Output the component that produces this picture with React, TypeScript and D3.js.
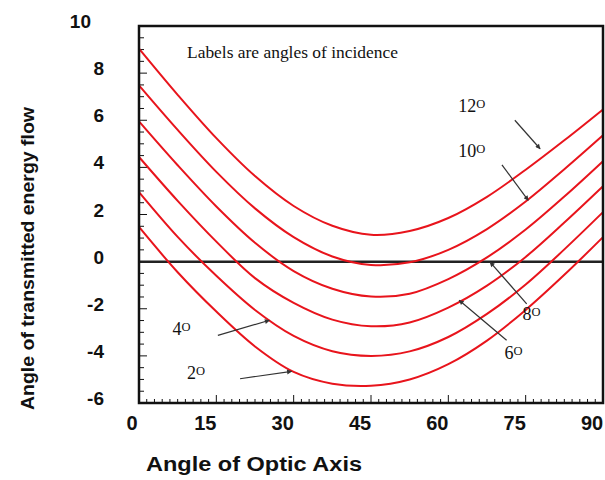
import React, { useEffect, useRef } from 'react'
import * as d3 from 'd3'

// angle of optic axis (deg)
const axisAngles = [0, 7.5, 15, 22.5, 30, 37.5, 45, 52.5, 60, 67.5, 75, 82.5, 90]

// angle of transmitted energy flow, one list per angle of incidence
const inc12 = [9.04, 7.08, 5.24, 3.63, 2.36, 1.52, 1.14, 1.3, 1.85, 2.75, 3.9, 5.15, 6.46]
const inc10 = [7.48, 5.59, 3.81, 2.26, 1.04, 0.22, -0.14, -0.03, 0.5, 1.38, 2.55, 3.92, 5.36]
const inc8 = [5.95, 4.09, 2.34, 0.8, -0.4, -1.15, -1.48, -1.36, -0.74, 0.18, 1.36, 2.76, 4.26]
const inc6 = [4.44, 2.58, 0.85, -0.7, -1.75, -2.46, -2.74, -2.58, -1.95, -1.02, 0.2, 1.66, 3.2]
const inc4 = [2.95, 1.05, -0.6, -2.05, -3.15, -3.8, -4.0, -3.81, -3.2, -2.22, -0.97, 0.52, 2.1]
const inc2 = [1.47, -0.45, -2.12, -3.6, -4.68, -5.18, -5.27, -5.0, -4.35, -3.35, -2.05, -0.56, 1.04]

const seriesNames = ['12', '10', '8', '6', '4', '2']
const seriesValues = [inc12, inc10, inc8, inc6, inc4, inc2]

const xTicks = [0, 15, 30, 45, 60, 75, 90]
const yTicks = [-6, -4, -2, 0, 2, 4, 6, 8, 10]

// label position (x, y baseline) and arrow (from -> to), in data units
const labelPos: [number, number][] = [[61.9, 6.35], [61.9, 4.44], [74.4, -2.49], [70.9, -4.12], [6.5, -3.13], [9.3, -4.97]]
const arrowFrom: [number, number][] = [[72.9, 6.0], [70.4, 4.11], [75.2, -1.79], [71.3, -3.34], [15.3, -3.13], [19.6, -4.97]]
const arrowTo: [number, number][] = [[77.8, 4.79], [75.5, 2.6], [68.1, -0.02], [62.1, -1.64], [25.3, -2.49], [29.6, -4.66]]

export default function App() {
  const ref = useRef<SVGSVGElement | null>(null)

  useEffect(() => {
    const svg = d3.select(ref.current)
    svg.selectAll('*').remove()
    const W = 605, H = 480
    svg.attr('viewBox', `0 0 ${W} ${H}`)

    const left = 139, right = 603, top = 26, bottom = 403
    const x = d3.scaleLinear().domain([0, 90]).range([left, right])
    const y = d3.scaleLinear().domain([-6, 10]).range([bottom, top])
    const sans = 'Liberation Sans, Arial, sans-serif'
    const serif = 'Liberation Serif, Times New Roman, serif'

    svg.append('rect').attr('width', W).attr('height', H).attr('fill', '#fff')

    const defs = svg.append('defs')
    defs.append('marker').attr('id', 'ah').attr('viewBox', '0 0 10 10')
      .attr('refX', 9).attr('refY', 5).attr('markerWidth', 8).attr('markerHeight', 5)
      .attr('markerUnits', 'userSpaceOnUse').attr('orient', 'auto')
      .append('path').attr('d', 'M0,0 L10,5 L0,10 z').attr('fill', '#333')

    // minor/major ticks, pointing inward
    const g = svg.append('g')
    g.selectAll('.yt').data(d3.range(-6, 10.01, 0.5)).enter().append('line')
      .attr('x1', left).attr('x2', d => left + (d % 2 === 0 ? 8 : 5))
      .attr('y1', d => y(d)).attr('y2', d => y(d))
      .attr('stroke', '#111').attr('stroke-width', 1)
    g.selectAll('.xt').data(d3.range(0, 90.01, 1.5)).enter().append('line')
      .attr('y1', bottom).attr('y2', d => bottom - (Math.abs(d % 15) < 0.01 ? 8 : 4))
      .attr('x1', d => x(d)).attr('x2', d => x(d))
      .attr('stroke', '#111').attr('stroke-width', 1)

    // zero line
    svg.append('line').attr('x1', left).attr('x2', right).attr('y1', y(0)).attr('y2', y(0))
      .attr('stroke', '#222').attr('stroke-width', 2.5)

    // curves
    const line = d3.line<number>().x((d, i) => x(axisAngles[i])).y(d => y(d)).curve(d3.curveCatmullRom)
    svg.append('g').selectAll('path').data(seriesValues).enter().append('path')
      .attr('d', d => line(d)).attr('fill', 'none').attr('stroke', '#e8141c').attr('stroke-width', 2)

    // frame
    svg.append('rect').attr('x', left).attr('y', top).attr('width', right - left).attr('height', bottom - top)
      .attr('fill', 'none').attr('stroke', '#111').attr('stroke-width', 2.5)

    // tick labels
    svg.append('g').selectAll('text').data(xTicks).enter().append('text')
      .attr('x', d => x(d) - (d === 0 ? 7 : 11)).attr('y', bottom + 27).attr('text-anchor', 'middle')
      .attr('font-family', sans).attr('font-weight', 'bold').attr('font-size', 20).attr('fill', '#111')
      .text(d => d)
    svg.append('g').selectAll('text').data(yTicks).enter().append('text')
      .attr('x', d => (d === 10 ? 91 : 104)).attr('y', d => y(d) + 2).attr('text-anchor', 'end')
      .attr('font-family', sans).attr('font-weight', 'bold').attr('font-size', 19).attr('fill', '#111')
      .text(d => d)

    // axis titles
    svg.append('text').attr('x', 146).attr('y', 471)
      .attr('font-family', sans).attr('font-weight', 'bold').attr('font-size', 20).attr('fill', '#111')
      .attr('textLength', 216).attr('lengthAdjust', 'spacingAndGlyphs')
      .text('Angle of Optic Axis')
    svg.append('text').attr('transform', 'translate(34,258.5) rotate(-90)').attr('text-anchor', 'middle')
      .attr('font-family', sans).attr('font-weight', 'bold').attr('font-size', 19).attr('fill', '#111')
      .attr('textLength', 303).attr('lengthAdjust', 'spacingAndGlyphs')
      .text('Angle of transmitted energy flow')

    svg.append('text').attr('x', 187).attr('y', 58)
      .attr('font-family', serif).attr('font-size', 17).attr('fill', '#111')
      .attr('textLength', 211).attr('lengthAdjust', 'spacingAndGlyphs')
      .text('Labels are angles of incidence')

    // incidence labels and arrows
    seriesNames.forEach((name, i) => {
      const t = svg.append('text').attr('x', x(labelPos[i][0])).attr('y', y(labelPos[i][1]))
        .attr('font-family', serif).attr('font-size', 18).attr('fill', '#111')
      t.append('tspan').text(name)
      t.append('tspan').attr('dy', -4).attr('font-size', 12.5).text('O')
      svg.append('line')
        .attr('x1', x(arrowFrom[i][0])).attr('y1', y(arrowFrom[i][1]))
        .attr('x2', x(arrowTo[i][0])).attr('y2', y(arrowTo[i][1]))
        .attr('stroke', '#333').attr('stroke-width', 1.2).attr('marker-end', 'url(#ah)')
    })
  }, [])

  return (
    <div style={{ position: 'absolute', left: 0, top: 0, width: 605, height: 480 }}>
      <svg ref={ref} width={605} height={480} style={{ display: 'block' }} />
    </div>
  )
}
